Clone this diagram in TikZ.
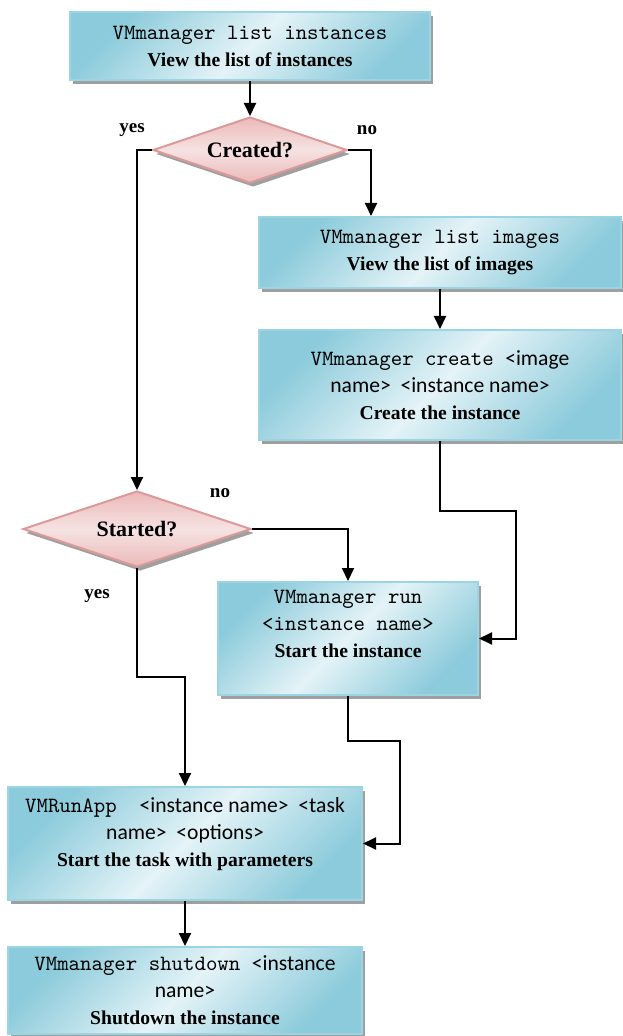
\documentclass[tikz,border=0pt]{standalone}
\usepackage{fontspec}
\setmainfont{Liberation Serif}
\newfontfamily\calfont{Carlito}
\usepackage{tikz}
\usepackage{xcolor}
\usetikzlibrary{shapes.geometric,shadows,arrows.meta}

\newcommand{\cmdfont}{\ttfamily\fontsize{10.9}{13.5}\selectfont}
\newcommand{\argfont}{\calfont\fontsize{10.8}{13.5}\selectfont}

\definecolor{boxdark}{HTML}{8CCBDB}
\definecolor{boxlight}{HTML}{E4F3F7}
\definecolor{boxedge}{HTML}{9BD5E3}
\definecolor{decdark}{HTML}{EBB9B9}
\definecolor{declight}{HTML}{F6E2E2}
\definecolor{decedge}{HTML}{DB9A9A}

\tikzset{
  cmdbox/.style={rectangle, draw=boxedge, line width=1pt,
    shading=axis, left color=boxdark, right color=boxdark, middle color=boxlight,
    shading angle=45, align=center, inner sep=2pt,
    drop shadow={shadow xshift=1.5pt, shadow yshift=-2pt, fill=gray!75, opacity=1}},
  decision/.style={diamond, draw=decedge, line width=1pt,
    top color=decdark, bottom color=decdark, middle color=declight,
    inner sep=0pt, aspect=3, font=\bfseries\fontsize{11}{13}\selectfont,
    drop shadow={shadow xshift=1.5pt, shadow yshift=-2pt, fill=gray!75, opacity=1}},
  answer/.style={font=\bfseries\fontsize{9.5}{11}\selectfont, inner sep=0pt},
  flow/.style={line width=1pt, -{Triangle[length=6.5pt,width=6pt]}}
}

\begin{document}
\begin{tikzpicture}[x=0.5pt,y=-0.5pt, every node/.append style={font=\fontsize{9.8}{13.5}\selectfont}]
	\useasboundingbox (0,0) rectangle (622,1036);
	% commands and decisions
	\node[cmdbox, minimum width=180pt, minimum height=34pt] (list) at (250,46)
		{{\cmdfont VMmanager list instances}\\ \textbf{View the list of instances}};
	\node[decision, minimum width=97pt, minimum height=33pt] (created) at (250,150) {Created?};
	\node[cmdbox, minimum width=181pt, minimum height=35.5pt] (images) at (440,252.5)
		{{\cmdfont VMmanager list images}\\ \textbf{View the list of images}};
	\node[cmdbox, minimum width=181pt, minimum height=55pt] (create) at (440,385)
		{{\cmdfont VMmanager create }{\argfont <image}\\
		 {\argfont name>\ \ <instance name>}\\ \textbf{Create the instance}};
	\node[decision, minimum width=114pt, minimum height=38pt] (started) at (137,529) {Started?};
	\node[cmdbox, minimum width=130pt, minimum height=56.5pt, text depth=15pt] (run) at (348,638.5)
		{{\cmdfont VMmanager run}\\ {\cmdfont <instance name>}\\ \textbf{Start the instance}};
	\node[cmdbox, minimum width=177pt, minimum height=56.5pt, text depth=12pt] (task) at (185,843.5)
		{{\cmdfont VMRunApp\ \ }{\argfont <instance name>\ \ <task}\\
		 {\argfont name>\ \ <options>}\\ \textbf{Start the task with parameters}};
	\node[cmdbox, minimum width=177pt, minimum height=43.5pt] (shutdown) at (185,990.5)
		{{\cmdfont VMmanager shutdown }{\argfont <instance}\\
		 {\argfont name>}\\ \textbf{Shutdown the instance}};

	% answers
	\node[answer] (yes1) at (132,130) {yes};
	\node[answer] (no1) at (367,130) {no};
	\node[answer] (no2) at (220,493) {no};
	\node[answer] (yes2) at (97,596) {yes};

	% connectors
	\draw[flow] (list) -- (created);
	\draw[flow] (created.west) -| (started.north);
	\draw[flow] (created.east) -| ([xshift=56.5pt]images.north west);
	\draw[flow] (images) -- (create);
	\draw[flow] (create.south) -- ++(0,70) -| ([xshift=18.5pt]run.east) -- (run.east);
	\draw[flow] (started.east) -| (run.north);
	\draw[flow] (started.south) -- ++(0,109) -| (task.north);
	\draw[flow] (run.south) -- ++(0,45) -| ([xshift=18.5pt]task.east) -- (task.east);
	\draw[flow] (task) -- (shutdown);
\end{tikzpicture}
\end{document}
